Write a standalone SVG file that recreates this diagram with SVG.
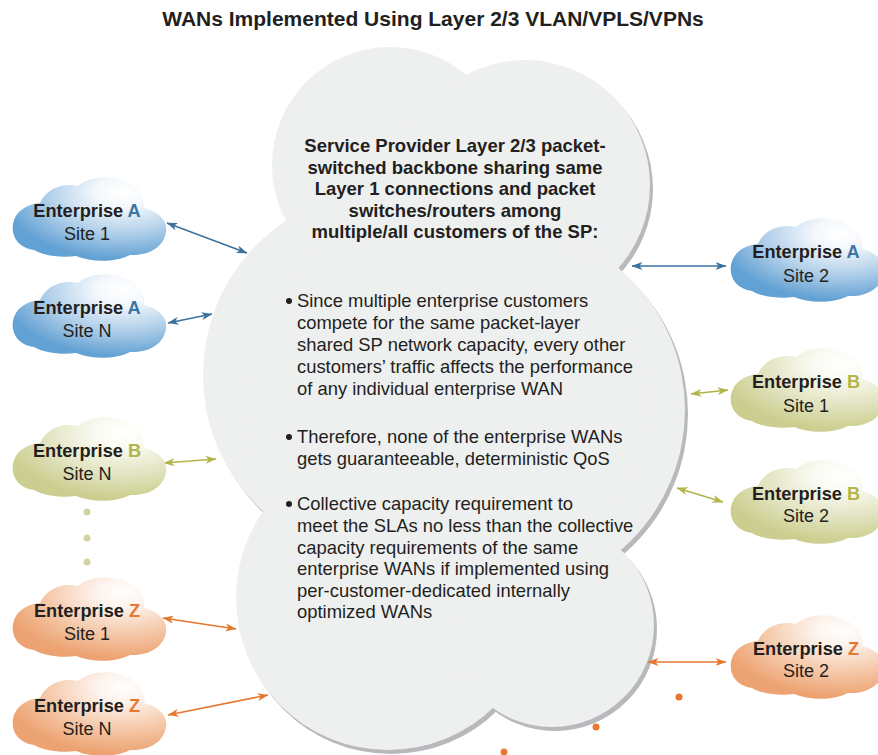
<svg xmlns="http://www.w3.org/2000/svg" width="878" height="755" viewBox="0 0 878 755">
<style>
.t{font-family:"Liberation Sans",Arial,sans-serif;fill:#231f20}
.ttl{font-size:21px;font-weight:bold;text-anchor:middle}
.ct{font-size:18.5px;font-weight:bold;text-anchor:middle}
.bl{font-size:18.4px}
.en{font-size:18.2px;font-weight:bold;text-anchor:middle}
.st{font-size:18px;text-anchor:middle}
.cA{fill:#3d76a6}.cB{fill:#b3b44a}.cZ{fill:#e5782f}
.sh{fill:#b8b9bc}
.bf{fill:#eeefef}
.la{stroke:#3b72a0;stroke-width:1.6;fill:none;marker-start:url(#mA);marker-end:url(#mA)}
.lb{stroke:#b3b44a;stroke-width:1.6;fill:none;marker-start:url(#mB);marker-end:url(#mB)}
.lz{stroke:#e5782f;stroke-width:1.6;fill:none;marker-start:url(#mZ);marker-end:url(#mZ)}
</style>
<defs>
<path id="sc" d="M22,74 C6,72 -1,60 1,48 C3,36 14,28 28,27 C34,13 50,6 66,10 C76,1 96,-1 110,4 C126,9 134,20 132,32 C148,36 156,46 154,56 C152,70 138,80 118,79 C105,86 80,87 64,80 C50,82 32,80 22,74 Z"/>
<radialGradient id="gA" cx="0.72" cy="0.18" r="0.8" fx="0.72" fy="0.18"><stop offset="0" stop-color="#ffffff"/><stop offset="0.22" stop-color="#f4f8fc"/><stop offset="0.62" stop-color="#b0cfe9"/><stop offset="1" stop-color="#62a1d3"/></radialGradient>
<radialGradient id="gB" cx="0.72" cy="0.18" r="0.8" fx="0.72" fy="0.18"><stop offset="0" stop-color="#ffffff"/><stop offset="0.22" stop-color="#fafbf2"/><stop offset="0.62" stop-color="#e3e4c2"/><stop offset="1" stop-color="#cbce8e"/></radialGradient>
<radialGradient id="gZ" cx="0.72" cy="0.18" r="0.8" fx="0.72" fy="0.18"><stop offset="0" stop-color="#ffffff"/><stop offset="0.22" stop-color="#fdf3ec"/><stop offset="0.62" stop-color="#f5c9aa"/><stop offset="1" stop-color="#eca271"/></radialGradient>
<marker id="mA" viewBox="0 0 11 8" refX="10.5" refY="4" markerWidth="11" markerHeight="8" markerUnits="userSpaceOnUse" orient="auto-start-reverse"><path d="M0,0 L11,4 L0,8 L3,4 Z" fill="#3b72a0"/></marker>
<marker id="mB" viewBox="0 0 11 8" refX="10.5" refY="4" markerWidth="11" markerHeight="8" markerUnits="userSpaceOnUse" orient="auto-start-reverse"><path d="M0,0 L11,4 L0,8 L3,4 Z" fill="#b3b44a"/></marker>
<marker id="mZ" viewBox="0 0 11 8" refX="10.5" refY="4" markerWidth="11" markerHeight="8" markerUnits="userSpaceOnUse" orient="auto-start-reverse"><path d="M0,0 L11,4 L0,8 L3,4 Z" fill="#e5782f"/></marker>
</defs>
<rect width="878" height="755" fill="#ffffff"/>
<text class="t ttl" x="433" y="26">WANs Implemented Using Layer 2/3 VLAN/VPLS/VPNs</text>

<g id="backbone">
<g class="sh" transform="translate(3,4)">
<circle cx="390" cy="165" r="118"/>
<circle cx="525" cy="185" r="125"/>
<circle cx="388" cy="375" r="185"/>
<circle cx="500" cy="410" r="185"/>
<circle cx="388" cy="598" r="152"/>
<circle cx="552" cy="625" r="102"/>
</g>
<g class="bf">
<circle cx="390" cy="165" r="118"/>
<circle cx="525" cy="185" r="125"/>
<circle cx="388" cy="375" r="185"/>
<circle cx="500" cy="410" r="185"/>
<circle cx="388" cy="598" r="152"/>
<circle cx="552" cy="625" r="102"/>
<circle cx="445" cy="400" r="200"/>
</g>
<g class="t ct">
<text x="455" y="152">Service Provider Layer 2/3 packet-</text>
<text x="455" y="173.5">switched backbone sharing same</text>
<text x="455" y="195">Layer 1 connections and packet</text>
<text x="455" y="216.5">switches/routers among</text>
<text x="455" y="238">multiple/all customers of the SP:</text>
</g>
<g class="t bl">
<circle cx="289" cy="301" r="3" fill="#231f20"/>
<text x="297" y="307">Since multiple enterprise customers</text>
<text x="297" y="329">compete for the same packet-layer</text>
<text x="297" y="351">shared SP network capacity, every other</text>
<text x="297" y="373">customers’ traffic affects the performance</text>
<text x="297" y="395">of any individual enterprise WAN</text>
<circle cx="289" cy="437" r="3" fill="#231f20"/>
<text x="297" y="443">Therefore, none of the enterprise WANs</text>
<text x="297" y="465">gets guaranteeable, deterministic QoS</text>
<circle cx="289" cy="504" r="3" fill="#231f20"/>
<text x="297" y="510">Collective capacity requirement to</text>
<text x="297" y="532">meet the SLAs no less than the collective</text>
<text x="297" y="553.5">capacity requirements of the same</text>
<text x="297" y="575">enterprise WANs if implemented using</text>
<text x="297" y="596.5">per-customer-dedicated internally</text>
<text x="297" y="618">optimized WANs</text>
</g>
</g>

<g id="connectors">
<line class="la" x1="167" y1="223" x2="247" y2="253"/>
<line class="la" x1="168" y1="323" x2="212" y2="314"/>
<line class="la" x1="632" y1="266" x2="726" y2="266"/>
<line class="lb" x1="164" y1="463" x2="216" y2="459"/>
<line class="lb" x1="691" y1="394" x2="728" y2="390"/>
<line class="lb" x1="677" y1="488" x2="723" y2="502"/>
<line class="lz" x1="163" y1="618" x2="236" y2="629"/>
<line class="lz" x1="168" y1="715" x2="268" y2="695"/>
<line class="lz" x1="648" y1="662" x2="726" y2="662"/>
</g>

<g id="ellipsis-left" fill="#d3d3a0">
<circle cx="87" cy="512" r="3.5"/>
<circle cx="87" cy="538" r="3.5"/>
<circle cx="87" cy="562" r="3.5"/>
</g>
<g id="ellipsis-right" fill="#e8782f">
<circle cx="679" cy="697" r="3.5"/>
<circle cx="596" cy="727" r="3.5"/>
<circle cx="504" cy="752" r="3.5"/>
</g>

<g id="a-site1" transform="translate(12,176)">
<use href="#sc" fill="url(#gA)"/>
<text class="t en" x="75" y="41">Enterprise <tspan class="cA">A</tspan></text>
<text class="t st" x="75" y="64">Site 1</text>
</g>
<g id="a-siteN" transform="translate(12,273)">
<use href="#sc" fill="url(#gA)"/>
<text class="t en" x="75" y="41">Enterprise <tspan class="cA">A</tspan></text>
<text class="t st" x="75" y="64">Site N</text>
</g>
<g id="b-siteN" transform="translate(12,416)">
<use href="#sc" fill="url(#gB)"/>
<text class="t en" x="75" y="41">Enterprise <tspan class="cB">B</tspan></text>
<text class="t st" x="75" y="64">Site N</text>
</g>
<g id="z-site1" transform="translate(12,576)">
<use href="#sc" fill="url(#gZ)"/>
<text class="t en" x="75" y="41">Enterprise <tspan class="cZ">Z</tspan></text>
<text class="t st" x="75" y="64">Site 1</text>
</g>
<g id="z-siteN" transform="translate(12,671)">
<use href="#sc" fill="url(#gZ)"/>
<text class="t en" x="75" y="41">Enterprise <tspan class="cZ">Z</tspan></text>
<text class="t st" x="75" y="64">Site N</text>
</g>
<g id="a-site2" transform="translate(730,217)">
<use href="#sc" fill="url(#gA)"/>
<text class="t en" x="76" y="41">Enterprise <tspan class="cA">A</tspan></text>
<text class="t st" x="76" y="65">Site 2</text>
</g>
<g id="b-site1" transform="translate(730,347)">
<use href="#sc" fill="url(#gB)"/>
<text class="t en" x="76" y="41">Enterprise <tspan class="cB">B</tspan></text>
<text class="t st" x="76" y="65">Site 1</text>
</g>
<g id="b-site2" transform="translate(730,459)">
<use href="#sc" fill="url(#gB)"/>
<text class="t en" x="76" y="41">Enterprise <tspan class="cB">B</tspan></text>
<text class="t st" x="76" y="63">Site 2</text>
</g>
<g id="z-site2" transform="translate(730,614)">
<use href="#sc" fill="url(#gZ)"/>
<text class="t en" x="76" y="41">Enterprise <tspan class="cZ">Z</tspan></text>
<text class="t st" x="76" y="63">Site 2</text>
</g>
</svg>
